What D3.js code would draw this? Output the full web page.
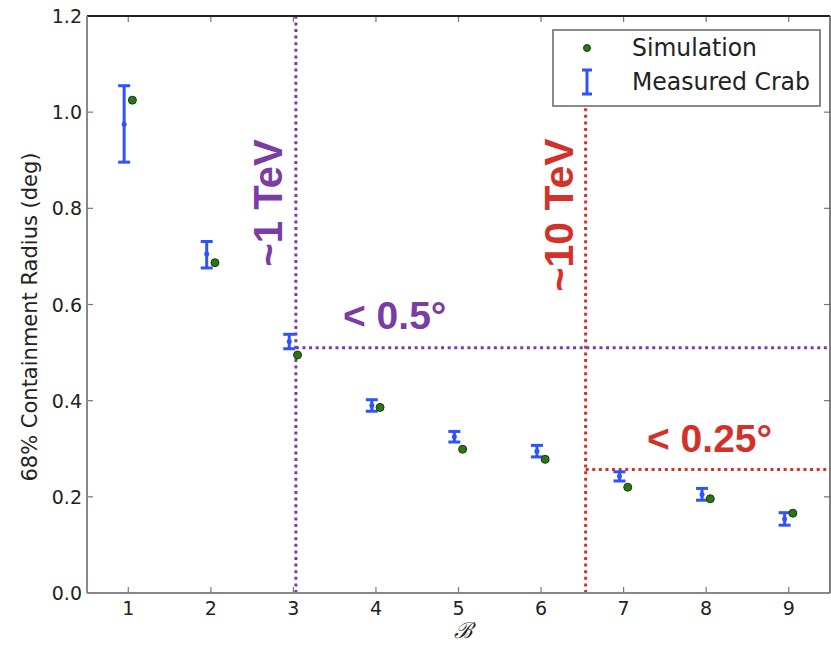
<!DOCTYPE html>
<html>
<head>
<meta charset="utf-8">
<script src="https://cdn.jsdelivr.net/npm/d3@7"></script>
<style>
  html, body { margin: 0; padding: 0; background: #fff; }
  svg { display: block; }
</style>
</head>
<body>
<svg id="chart" width="831" height="646"></svg>
<script>
// ---- data ----
const bins = [1, 2, 3, 4, 5, 6, 7, 8, 9];
const crabCenter = [0.975, 0.705, 0.523, 0.390, 0.325, 0.295, 0.243, 0.205, 0.154];
const crabLow    = [0.896, 0.676, 0.508, 0.378, 0.314, 0.283, 0.233, 0.193, 0.141];
const crabHigh   = [1.055, 0.731, 0.538, 0.402, 0.336, 0.307, 0.252, 0.2175, 0.167];
const simulation = [1.025, 0.687, 0.495, 0.386, 0.299, 0.278, 0.220, 0.196, 0.166];
const xTicks = [1, 2, 3, 4, 5, 6, 7, 8, 9];
const yTicks = [0.0, 0.2, 0.4, 0.6, 0.8, 1.0, 1.2];
const oneTeVBin = 3.03, halfDegRadius = 0.51;
const tenTeVBin = 6.54, quarterDegRadius = 0.257, tenTeVTop = 1.02;

// ---- layout ----
const svg = d3.select("#chart");
const L = 87, R = 830, T = 16, B = 593;
const x = d3.scaleLinear().domain([0.5, 9.5]).range([L, R]);
const y = d3.scaleLinear().domain([0, 1.2]).range([B, T]);
const font = "'DejaVu Sans', sans-serif";
const purple = "#7a3da3", red = "#d3322b", blue = "#2f52ff", green = "#2c7417";

// ticks (inward, all sides)
const tk = 6;
const gT = svg.append("g").attr("stroke", "#777").attr("stroke-width", 1.2);
xTicks.forEach(v => {
  gT.append("line").attr("x1", x(v)).attr("x2", x(v)).attr("y1", B).attr("y2", B - tk);
  gT.append("line").attr("x1", x(v)).attr("x2", x(v)).attr("y1", T).attr("y2", T + tk);
});
yTicks.forEach(v => {
  gT.append("line").attr("x1", L).attr("x2", L + tk).attr("y1", y(v)).attr("y2", y(v));
  gT.append("line").attr("x1", R).attr("x2", R - tk).attr("y1", y(v)).attr("y2", y(v));
});

// tick labels
svg.append("g").selectAll("text").data(xTicks).join("text")
  .attr("x", d => x(d)).attr("y", 615).attr("text-anchor", "middle")
  .attr("font-family", font).attr("font-size", 19).attr("fill", "#222")
  .text(d => d3.format("d")(d));
svg.append("g").selectAll("text").data(yTicks).join("text")
  .attr("x", 82).attr("y", d => y(d) + 7).attr("text-anchor", "end")
  .attr("font-family", font).attr("font-size", 19).attr("fill", "#222")
  .text(d => d3.format(".1f")(d));

// axis labels
svg.append("text").attr("transform", "translate(37,317) rotate(-90)")
  .attr("text-anchor", "middle").attr("font-family", font).attr("font-size", 21)
  .attr("fill", "#222").text("68% Containment Radius (deg)");
svg.append("text").attr("x", 463).attr("y", 638).attr("text-anchor", "middle")
  .attr("font-family", "'DejaVu Serif', serif").attr("font-style", "italic")
  .attr("font-size", 22).attr("fill", "#222").text("ℬ");

// threshold lines
const dot = "3,3.6";
svg.append("line").attr("x1", x(oneTeVBin)).attr("x2", x(oneTeVBin)).attr("y1", y(0)).attr("y2", y(1.2))
  .attr("stroke", purple).attr("stroke-width", 3).attr("stroke-dasharray", dot);
svg.append("line").attr("x1", x(oneTeVBin)).attr("x2", x(9.5)).attr("y1", y(halfDegRadius)).attr("y2", y(halfDegRadius))
  .attr("stroke", purple).attr("stroke-width", 3).attr("stroke-dasharray", dot);
svg.append("line").attr("x1", x(tenTeVBin)).attr("x2", x(tenTeVBin)).attr("y1", y(0)).attr("y2", y(tenTeVTop))
  .attr("stroke", red).attr("stroke-width", 3).attr("stroke-dasharray", dot);
svg.append("line").attr("x1", x(tenTeVBin)).attr("x2", x(9.5)).attr("y1", y(quarterDegRadius)).attr("y2", y(quarterDegRadius))
  .attr("stroke", red).attr("stroke-width", 3).attr("stroke-dasharray", dot);

// annotations
const bold = "'Liberation Sans', Arial, sans-serif";
svg.append("text").attr("transform", "translate(282,203) rotate(-90)").attr("text-anchor", "middle")
  .attr("font-family", bold).attr("font-weight", "bold").attr("font-size", 40).attr("fill", purple).text("~1 TeV");
svg.append("text").attr("transform", "translate(573,215) rotate(-90)").attr("text-anchor", "middle")
  .attr("font-family", bold).attr("font-weight", "bold").attr("font-size", 41).attr("fill", red).text("~10 TeV");
svg.append("text").attr("x", 343).attr("y", 329)
  .attr("font-family", bold).attr("font-weight", "bold").attr("font-size", 39).attr("fill", purple).text("< 0.5°");
svg.append("text").attr("x", 647).attr("y", 452)
  .attr("font-family", bold).attr("font-weight", "bold").attr("font-size", 39).attr("fill", red).text("< 0.25°");

// error bars (measured crab)
const cw = 6;
const eb = svg.append("g").attr("stroke", blue).attr("stroke-width", 3);
bins.forEach((b, i) => {
  const cx = x(b - 0.05);
  eb.append("line").attr("x1", cx).attr("x2", cx).attr("y1", y(crabLow[i])).attr("y2", y(crabHigh[i]));
  eb.append("line").attr("x1", cx - cw).attr("x2", cx + cw).attr("y1", y(crabLow[i])).attr("y2", y(crabLow[i]));
  eb.append("line").attr("x1", cx - cw).attr("x2", cx + cw).attr("y1", y(crabHigh[i])).attr("y2", y(crabHigh[i]));
});
svg.append("g").selectAll("circle").data(bins).join("circle")
  .attr("cx", d => x(d - 0.05)).attr("cy", (d, i) => y(crabCenter[i])).attr("r", 2.5).attr("fill", blue);

// simulation points
svg.append("g").selectAll("circle").data(bins).join("circle")
  .attr("cx", d => x(d + 0.05)).attr("cy", (d, i) => y(simulation[i])).attr("r", 4)
  .attr("fill", green).attr("stroke", "#173d0c").attr("stroke-width", 1);

// frame
svg.append("line").attr("x1", L).attr("x2", R).attr("y1", T).attr("y2", T).attr("stroke", "#222").attr("stroke-width", 2);
svg.append("line").attr("x1", L).attr("x2", R).attr("y1", B).attr("y2", B).attr("stroke", "#888").attr("stroke-width", 2);
svg.append("line").attr("x1", L).attr("x2", L).attr("y1", T).attr("y2", B).attr("stroke", "#888").attr("stroke-width", 2);
svg.append("line").attr("x1", R).attr("x2", R).attr("y1", T).attr("y2", B).attr("stroke", "#555").attr("stroke-width", 1.5);

// legend
const lg = svg.append("g");
lg.append("rect").attr("x", 553).attr("y", 30).attr("width", 267).attr("height", 76)
  .attr("fill", "#fff").attr("stroke", "#666").attr("stroke-width", 1.5);
lg.append("circle").attr("cx", 587).attr("cy", 48).attr("r", 3.5).attr("fill", green).attr("stroke", "#173d0c");
lg.append("line").attr("x1", 587).attr("x2", 587).attr("y1", 70).attr("y2", 94).attr("stroke", blue).attr("stroke-width", 3);
lg.append("line").attr("x1", 582).attr("x2", 592).attr("y1", 70).attr("y2", 70).attr("stroke", blue).attr("stroke-width", 3);
lg.append("line").attr("x1", 582).attr("x2", 592).attr("y1", 94).attr("y2", 94).attr("stroke", blue).attr("stroke-width", 3);
lg.append("text").attr("x", 632).attr("y", 56).attr("font-family", font).attr("font-size", 24)
  .attr("textLength", 125).attr("lengthAdjust", "spacingAndGlyphs").attr("fill", "#222").text("Simulation");
lg.append("text").attr("x", 632).attr("y", 90).attr("font-family", font).attr("font-size", 24)
  .attr("textLength", 178).attr("lengthAdjust", "spacingAndGlyphs").attr("fill", "#222").text("Measured Crab");
</script>
</body>
</html>
